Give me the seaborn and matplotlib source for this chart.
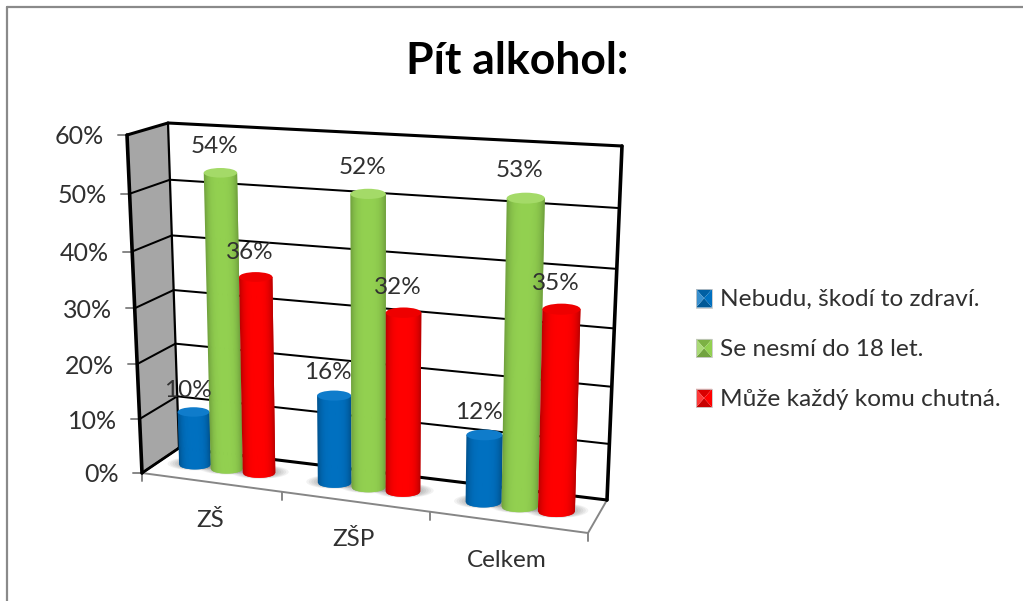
import numpy as np
import pandas as pd
import matplotlib
matplotlib.use('Agg')
import matplotlib.pyplot as plt
import seaborn as sns
from matplotlib.collections import PolyCollection
from matplotlib.colors import to_rgb
from matplotlib.legend_handler import HandlerBase
from matplotlib.patches import Ellipse, Patch, Polygon
from matplotlib.transforms import Affine2D, Transform

categories = ['ZŠ', 'ZŠP', 'Celkem']
answers = ['Nebudu, škodí to zdraví.', 'Se nesmí do 18 let.', 'Může každý komu chutná.']
nebudu = [10, 16, 12]
nesmi = [54, 52, 53]
muze = [36, 32, 35]
yticks = [0, 10, 20, 30, 40, 50, 60]
colors = ['#0070C0', '#92D050', '#FF0000']
dark_colors = ['#00508C', '#6E9E3C', '#B80000']
cap_colors = ['#0F7CCB', '#A4DA68', '#EE0000']

W, H = 1023, 601
TEXT = '#303030'

sns.set_theme(style='white')
plt.rcParams['font.family'] = ['Lato', 'DejaVu Sans']


def fit_plane(dst):
    # homography from (category, percent) to image pixels
    src = [(-0.5, 0), (2.5, 0), (2.5, 60), (-0.5, 60)]
    A, b = [], []
    for (x, y), (u, v) in zip(src, dst):
        A.append([x, y, 1, 0, 0, 0, -u * x, -u * y])
        A.append([0, 0, 0, x, y, 1, -v * x, -v * y])
        b += [u, v]
    return np.append(np.linalg.solve(np.array(A, float), np.array(b, float)), 1).reshape(3, 3)


class Tilt(Transform):
    input_dims = output_dims = 2

    def __init__(self, corners):
        super().__init__()
        self.m = fit_plane(corners)

    def pixels(self, x, y):
        p = self.m @ np.array([x, y, 1.0])
        return p[0] / p[2], p[1] / p[2]

    def transform_non_affine(self, values):
        values = np.asarray(values, float)
        p = np.c_[values, np.ones(len(values))] @ self.m.T
        return np.c_[p[:, 0] / p[:, 2], H - p[:, 1] / p[:, 2]]


class PyramidHandler(HandlerBase):
    def create_artists(self, legend, handle, x0, y0, w, h, fontsize, trans):
        c = np.array(to_rgb(handle.get_facecolor()))
        light, dark = c + (1 - c) * 0.22, c * 0.85
        y0 = y0 - 1
        h = h + 1
        mid = (x0 + w / 2, y0 + h / 2)
        a, b, d, e = (x0, y0), (x0 + w, y0), (x0 + w, y0 + h), (x0, y0 + h)
        out = []
        for pts, col in [((e, d, mid), dark), ((a, b, mid), dark * 0.92), ((a, e, mid), light), ((b, d, mid), c)]:
            out.append(Polygon(pts, facecolor=col, edgecolor='none', transform=trans))
        out.append(Polygon((a, b, d, e), fill=False, edgecolor='#C8C8C8', lw=0.6, transform=trans))
        return out


fig = plt.figure(figsize=(W / 100, H / 100), dpi=100, facecolor='white')
ax = fig.add_axes([0, 0, 1, 1])
px = Affine2D().scale(1, -1).translate(0, H)

df = pd.DataFrame({
    'skupina': np.repeat(categories, 3),
    'odpoved': answers * 3,
    'podil': [s[i] for i in range(3) for s in (nebudu, nesmi, muze)],
})
sns.barplot(data=df, x='skupina', y='podil', hue='odpoved', hue_order=answers, order=categories,
            palette=colors, width=0.70, gap=0, legend=False, ax=ax)
ax.set_axis_off()

back = Tilt([(179, 448), (607, 500), (622, 146), (168, 123)])
front = Tilt([(142, 473), (588, 533), (597, 164), (127, 135)])
middle = Tilt([(159, 460), (599, 517), (610, 160), (149, 134.5)])

# walls and floor
ax.add_patch(Polygon([front.pixels(-0.5, 0), back.pixels(-0.5, 0), back.pixels(-0.5, 60), front.pixels(-0.5, 60)],
                     facecolor='#A6A6A6', edgecolor='none', transform=px, zorder=1))


def seg(p, q, color='black', lw=1.45, z=2):
    ax.plot([p[0], q[0]], [p[1], q[1]], color=color, lw=lw, transform=px, clip_on=False, zorder=z,
            solid_capstyle='round')


for v in yticks:
    seg(back.pixels(-0.5, v), back.pixels(2.5, v), lw=2.2 if v in (0, 60) else 1.45)
    seg(front.pixels(-0.5, v), back.pixels(-0.5, v), lw=2.2 if v == 60 else 1.45)
    fx, fy = front.pixels(-0.5, v)
    seg((fx - 9, fy), (fx, fy), color='#868686', lw=1.4, z=1.5)
    ax.text(fx - 23, fy + 2, f'{v}%', ha='right', va='center', fontsize=18, color=TEXT,
            transform=px, clip_on=False, zorder=6)
seg(back.pixels(-0.5, 0), back.pixels(-0.5, 60), lw=1.6)
seg(back.pixels(2.5, 0), back.pixels(2.5, 60), lw=2.6)
seg(front.pixels(-0.5, 0), front.pixels(-0.5, 60), lw=2.6)
seg(front.pixels(-0.5, 0), back.pixels(-0.5, 0), lw=2.0)
seg(front.pixels(-0.5, 0), front.pixels(2.5, 0), color='#868686', lw=1.4, z=1.5)
seg(front.pixels(2.5, 0), back.pixels(2.5, 0), color='#868686', lw=1.4, z=1.5)
for x in [-0.5, 0.5, 1.5, 2.5]:
    fx, fy = front.pixels(x, 0)
    seg((fx, fy), (fx, fy + 8), color='#868686', lw=1.4, z=1.5)

for i, name in enumerate(categories):
    fx, fy = front.pixels(i, 0)
    ax.text(fx - 1, fy + 38, name, ha='center', va='center', fontsize=17.5, color=TEXT,
            transform=px, clip_on=False, zorder=6)

# cylinders, one from each seaborn bar
ts = np.linspace(-1, 1, 41)
z = 3.0
bars = []
for h_i, cont in enumerate(ax.containers):
    for cat_i, bar in enumerate(cont):
        bars.append((cat_i, h_i, bar))
bars.sort(key=lambda b: (b[0], b[1]))
for cat_i, h_i, bar in bars:
    x0, w, val = bar.get_x(), bar.get_width(), bar.get_height()
    bar.set_visible(False)
    base, edge, cap = [np.array(to_rgb(c[h_i])) for c in (colors, dark_colors, cap_colors)]
    xc = x0 + w / 2
    bl, br = middle.pixels(x0, 0), middle.pixels(x0 + w, 0)
    tl, tr = middle.pixels(x0, val), middle.pixels(x0 + w, val)
    half = (br[0] - bl[0]) / 2
    b = half * 0.3
    yb0 = (bl[1] + br[1]) / 2
    yt0 = (tl[1] + tr[1]) / 2

    # soft shadow on the floor, mostly at the sides of the base
    cx, cy = middle.pixels(xc, 0)
    for k in range(1, 6):
        ax.add_patch(Ellipse((cx + 1, yb0 - 1), 2 * half + 5 * k, 2 * b + 0.8 * k, facecolor='black', alpha=0.05,
                             edgecolor='none', transform=px, zorder=z - 0.5))

    polys, cols = [], []
    for j, (t0, t1) in enumerate(zip(ts[:-1], ts[1:])):
        # each strip runs under the next one so no seams show
        t1 = ts[min(j + 2, len(ts) - 1)]
        s0, s1 = (t0 + 1) / 2, (t1 + 1) / 2
        pts = []
        for s, t in ((s0, t0), (s1, t1)):
            pts.append((bl[0] + (br[0] - bl[0]) * s, yb0 + b * np.sqrt(max(1 - t * t, 0))))
        for s, t in ((s1, t1), (s0, t0)):
            pts.append((tl[0] + (tr[0] - tl[0]) * s, yt0))
        polys.append(pts)
        m = abs(ts[j] + ts[j + 1]) / 2
        cols.append(base + (edge - base) * m ** 3.5)
    ax.add_collection(PolyCollection(polys, facecolors=cols, edgecolors='none',
                                     transform=px, zorder=z, clip_on=False))
    # top of the cylinder
    top_c = ((tl[0] + tr[0]) / 2, yt0)
    ax.add_patch(Ellipse(top_c, tr[0] - tl[0], 2 * b, facecolor=cap, edgecolor='none',
                         transform=px, zorder=z + 0.1))
    ax.text(top_c[0] - 6, yt0 - b - 16 - 0.11 * val, f'{val:.0f}%', ha='center', va='center', fontsize=17.5,
            color=TEXT, transform=px, clip_on=False, zorder=7)
    z += 0.2

ax.text(517, 61, 'Pít alkohol:', ha='center', va='center', fontsize=32, fontweight='bold', color='black',
        transform=px, clip_on=False, zorder=7)

handles = [Patch(facecolor=c) for c in colors]
ax.legend(handles, answers, handler_map={Patch: PyramidHandler()}, frameon=False, loc='upper left',
          bbox_to_anchor=(696, 289), bbox_transform=px, fontsize=17.6, labelcolor=TEXT, labelspacing=1.18,
          handlelength=0.66, handletextpad=0.33, borderpad=0, borderaxespad=0)

# picture border, top and left only
seg((7, H), (7, 7), color='#8A8A8A', lw=1.6, z=8)
seg((7, 7), (W, 7), color='#8A8A8A', lw=1.6, z=8)

fig.savefig('out.png', dpi=100)
